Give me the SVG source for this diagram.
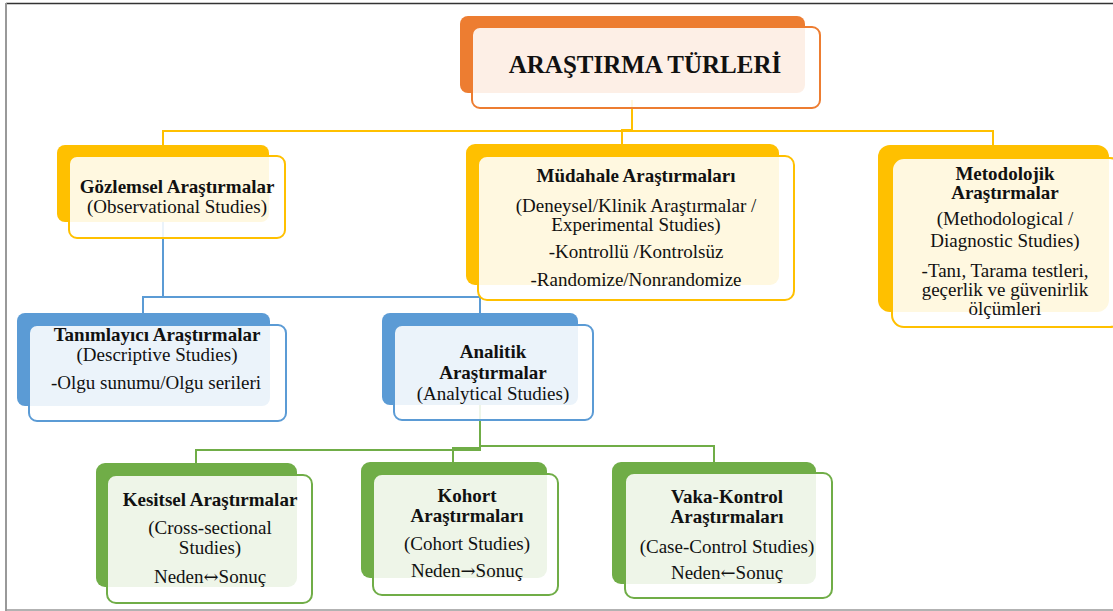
<svg xmlns="http://www.w3.org/2000/svg" width="1113" height="611" viewBox="0 0 1113 611">
<style>
text{font-family:"Liberation Serif","Times New Roman",serif;font-size:19px;fill:#111;text-anchor:middle}
.b{font-weight:bold}
.t{font-weight:bold;font-size:25px}
.ar{font-family:"DejaVu Serif","DejaVu Sans",serif;font-size:18px}
.front{fill:#fff;fill-opacity:0.88;stroke-width:2}
.conn{fill:none;stroke-width:2}
.or .back{fill:#ED7D31}.or .front{stroke:#ED7D31}
.ye .back{fill:#FFC000}.ye .front{stroke:#FFC000}
.bl .back{fill:#5B9BD5}.bl .front{stroke:#5B9BD5}
.gr .back{fill:#70AD47}.gr .front{stroke:#70AD47}
</style>
<rect width="1113" height="611" fill="#fff"/>
<g id="frame">
<line x1="6" y1="3.5" x2="1113" y2="3.5" stroke="#333" stroke-width="1.5"/>
<line x1="6" y1="3" x2="6" y2="611" stroke="#999" stroke-width="2"/>
<line x1="6" y1="610" x2="1113" y2="610" stroke="#999" stroke-width="1.5"/>
</g>
<g id="connectors">
<polyline class="conn" stroke="#FFC000" points="632,100 632,131 163,131 163,146"/>
<polyline class="conn" stroke="#FFC000" points="632,100 632,130 622,130 622,145"/>
<polyline class="conn" stroke="#FFC000" points="632,100 632,131 993,131 993,146"/>
<polyline class="conn" stroke="#5B9BD5" points="163,222 163,297 143,297 143,314"/>
<polyline class="conn" stroke="#5B9BD5" points="163,222 163,297 480,297 480,314"/>
<polyline class="conn" stroke="#70AD47" points="480,405 480,450 196,450 196,464"/>
<polyline class="conn" stroke="#70AD47" points="480,405 480,448 453,448 453,463"/>
<polyline class="conn" stroke="#70AD47" points="480,405 480,446 714,446 714,463"/>
</g>
<g id="root" class="or">
<rect class="back" x="460" y="16" width="345" height="77" rx="8"/>
<rect class="front" x="472" y="27" width="348" height="81" rx="8"/>
<text class="t" x="645" y="73">ARAŞTIRMA TÜRLERİ</text>
</g>
<g id="gozlemsel" class="ye">
<rect class="back" x="57" y="145" width="212" height="77" rx="8"/>
<rect class="front" x="69" y="156" width="216" height="82" rx="8"/>
<text class="b" x="177" y="193">Gözlemsel Araştırmalar</text>
<text x="177" y="213">(Observational Studies)</text>
</g>
<g id="mudahale" class="ye">
<rect class="back" x="466" y="144" width="313" height="141" rx="9"/>
<rect class="front" x="478" y="156" width="316" height="144" rx="9"/>
<text class="b" x="636" y="182">Müdahale Araştırmaları</text>
<text x="636" y="212">(Deneysel/Klinik Araştırmalar /</text>
<text x="636" y="231">Experimental Studies)</text>
<text x="636" y="258">-Kontrollü /Kontrolsüz</text>
<text x="636" y="286">-Randomize/Nonrandomize</text>
</g>
<g id="metodolojik" class="ye">
<rect class="back" x="878" y="145" width="231" height="167" rx="12"/>
<rect class="front" x="892" y="158" width="230" height="169" rx="12"/>
<text class="b" x="1005" y="180">Metodolojik</text>
<text class="b" x="1005" y="199">Araştırmalar</text>
<text x="1005" y="225">(Methodological /</text>
<text x="1005" y="247">Diagnostic Studies)</text>
<text x="1005" y="277">-Tanı, Tarama testleri,</text>
<text x="1005" y="296">geçerlik ve güvenirlik</text>
<text x="1005" y="315">ölçümleri</text>
</g>
<g id="tanimlayici" class="bl">
<rect class="back" x="17" y="313" width="253" height="93" rx="8"/>
<rect class="front" x="29" y="325" width="257" height="96" rx="8"/>
<text class="b" x="157" y="341">Tanımlayıcı Araştırmalar</text>
<text x="157" y="361">(Descriptive Studies)</text>
<text x="156" y="389">-Olgu sunumu/Olgu serileri</text>
</g>
<g id="analitik" class="bl">
<rect class="back" x="382" y="313" width="196" height="92" rx="8"/>
<rect class="front" x="394" y="325" width="199" height="95" rx="8"/>
<text class="b" x="493" y="358">Analitik</text>
<text class="b" x="493" y="379">Araştırmalar</text>
<text x="493" y="400">(Analytical Studies)</text>
</g>
<g id="kesitsel" class="gr">
<rect class="back" x="96" y="463" width="201" height="124" rx="9"/>
<rect class="front" x="107" y="475" width="205" height="128" rx="9"/>
<text class="b" x="210" y="506">Kesitsel Araştırmalar</text>
<text x="210" y="534">(Cross-sectional</text>
<text x="210" y="554">Studies)</text>
<text x="210" y="583">Neden<tspan class="ar">↔</tspan>Sonuç</text>
</g>
<g id="kohort" class="gr">
<rect class="back" x="361" y="462" width="186" height="116" rx="9"/>
<rect class="front" x="373" y="474" width="185" height="121" rx="9"/>
<text class="b" x="467" y="502">Kohort</text>
<text class="b" x="467" y="522">Araştırmaları</text>
<text x="467" y="550">(Cohort Studies)</text>
<text x="467" y="577">Neden<tspan class="ar">→</tspan>Sonuç</text>
</g>
<g id="vakakontrol" class="gr">
<rect class="back" x="612" y="462" width="204" height="122" rx="9"/>
<rect class="front" x="625" y="473" width="207" height="125" rx="9"/>
<text class="b" x="727" y="503">Vaka-Kontrol</text>
<text class="b" x="727" y="523">Araştırmaları</text>
<text x="727" y="553">(Case-Control Studies)</text>
<text x="727" y="579">Neden<tspan class="ar">←</tspan>Sonuç</text>
</g>
</svg>
